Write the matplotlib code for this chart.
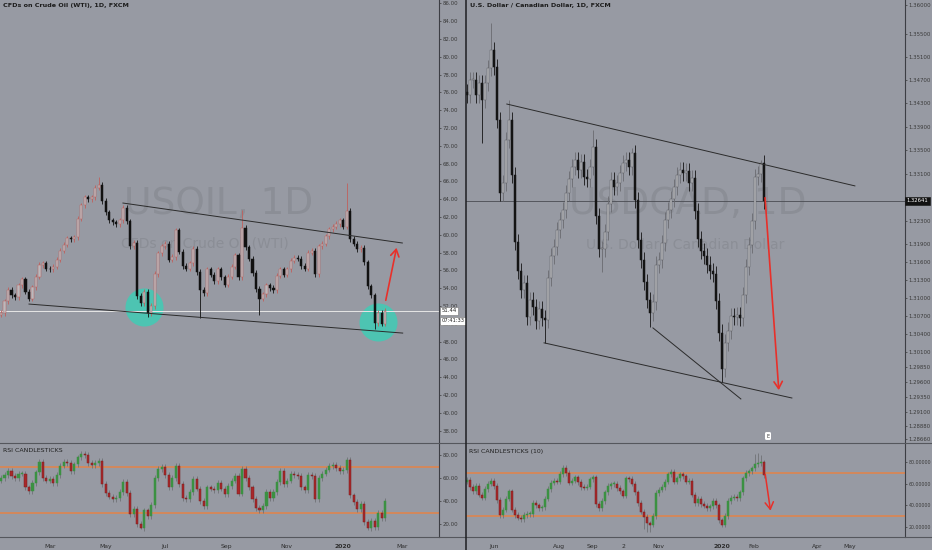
"""
Dos paneles estilo TradingView: USOIL 1D y USDCAD 1D con RSI en velas.
"""
import numpy as np
import matplotlib
matplotlib.use("Agg")
import matplotlib.pyplot as plt
from matplotlib.lines import Line2D
from matplotlib.ticker import FixedLocator, NullLocator, FuncFormatter
import matplotlib.transforms as mtransforms

BG = "#979aa3"
WM = "#8b8e96"
RED = "#e8302a"
ORANGE = "#dd8550"

# ---------------- USOIL (cierres cada ~2 sesiones) ----------------
oil_close = [51.2, 52.5, 53.8, 53.2, 53.0, 54.3, 55.0, 53.6, 52.8, 54.1,
             55.3, 56.6, 56.8, 56.2, 56.1, 56.4, 57.2, 58.2, 58.9, 59.6,
             59.5, 59.7, 61.8, 63.3, 64.2, 64.0, 64.2, 65.3, 65.6, 63.8,
             62.5, 61.6, 61.4, 61.2, 61.6, 63.0, 61.5, 58.7, 59.1, 53.1,
             52.3, 53.6, 51.2, 52.0, 55.6, 57.9, 58.7, 59.0, 57.2, 57.5,
             60.5, 58.1, 56.5, 56.2, 56.8, 58.4, 55.8, 53.8, 53.4, 56.1,
             55.5, 54.8, 56.1, 55.2, 54.4, 55.3, 56.4, 57.7, 55.2, 60.8,
             58.6, 57.3, 55.7, 53.9, 52.8, 53.3, 54.3, 54.0, 53.8, 55.4,
             56.1, 55.5, 56.1, 57.1, 57.4, 57.3, 56.5, 56.2, 58.0, 58.2,
             55.6, 58.7, 59.0, 59.8, 60.6, 60.9, 61.2, 61.6, 60.9, 62.7,
             59.5, 59.0, 58.4, 58.5, 56.9, 54.2, 53.2, 50.1, 51.2, 50.0,
             51.44]
oil_high_spikes = {28: 66.5, 69: 62.8, 99: 65.8}
oil_low_spikes = {42: 50.8, 57: 50.6, 74: 51.0, 107: 49.4}

oil_rsi = [60, 63, 66, 62, 60.5, 64, 64, 52, 48.5, 56,
           65, 74, 60, 58, 59.5, 56, 63, 71, 74, 73,
           66, 72, 78, 81, 80, 73, 71.7, 73, 75, 55,
           47, 44, 42, 43, 48, 57, 47, 29, 33, 20,
           17, 32, 27, 37, 60, 68, 70, 63, 52, 60,
           70.5, 55, 43, 42, 48, 59, 51, 40, 36, 52,
           51, 49.5, 56, 51, 46, 53, 58, 62, 46.7, 68,
           60, 52, 42, 34, 32, 36, 48, 43, 48, 57,
           66, 55, 58, 63.5, 62.5, 62, 52, 50, 62.5, 62,
           42, 60.5, 64, 67.5, 70.5, 71.5, 69, 66, 67, 76,
           45, 39, 33, 38, 22, 17, 23, 17.5, 30, 25,
           40]

oil_months = ["Mar", "May", "Jul", "Sep", "Nov", "2020", "Mar"]
oil_month_pos = [14.0, 30.0, 46.9, 64.6, 81.7, 98.0, 114.9]
oil_ticks = list(range(38, 88, 2))
oil_last = 51.44
oil_timer = "07:41:33"
oil_upper_x, oil_upper_y = [34.9, 114.9], [63.56, 59.07]
oil_lower_x, oil_lower_y = [8.0, 115.0], [52.21, 48.95]
oil_circle_x, oil_circle_y = [40.9, 108.0], [51.88, 50.19]
oil_arrow_x, oil_arrow_y = [110.0, 113.4], [52.33, 58.84]

# ---------------- USDCAD ----------------
cad_close = [1.34445, 1.34704, 1.34704, 1.34445, 1.34652, 1.34358, 1.34652, 1.34911, 1.35222, 1.34929,
             1.34016, 1.32772, 1.32942, 1.33675, 1.34016, 1.33078, 1.31944, 1.31455, 1.31136, 1.31253,
             1.30683, 1.30967, 1.30850, 1.30617, 1.30816, 1.30667, 1.30633, 1.31338, 1.31708, 1.31860,
             1.32146, 1.32314, 1.32483, 1.32772, 1.33010, 1.33215, 1.33334, 1.33164, 1.33300, 1.33044,
             1.33010, 1.33215, 1.33556, 1.32382, 1.31826, 1.31826, 1.32112, 1.32584, 1.32993, 1.32874,
             1.32942, 1.33113, 1.33283, 1.33334, 1.33215, 1.33454, 1.32652, 1.31978, 1.31641, 1.31270,
             1.30967, 1.30750, 1.30934, 1.31557, 1.31641, 1.31927, 1.32314, 1.32483, 1.32669, 1.32874,
             1.33078, 1.33164, 1.33113, 1.33147, 1.32942, 1.33027, 1.32466, 1.31995, 1.31792, 1.31708,
             1.31557, 1.31455, 1.31405, 1.30950, 1.30417, 1.29819, 1.30251, 1.30451, 1.30700, 1.30683,
             1.30716, 1.30667, 1.31051, 1.31523, 1.31893, 1.32298, 1.33044, 1.33096, 1.33283, 1.32641]
cad_high_spikes = {8: 1.35689, 14: 1.34358, 42: 1.33846, 55: 1.33539, 98: 1.33334}
cad_low_spikes = {5: 1.33624, 26: 1.30251, 45: 1.31439, 61: 1.30517, 85: 1.29602}

cad_rsi = [63.5, 57, 53, 58, 50, 47, 55, 60, 63, 58,
           45, 31, 36, 46, 53, 36, 31, 28.5, 27, 31,
           32, 32, 42, 40, 37, 38, 46, 55, 61, 63,
           62, 69, 75, 70, 61, 63, 66, 61.5, 57, 56.3,
           57.3, 64, 66, 41, 37, 44, 52, 58, 59.6, 60,
           56, 53, 49, 65, 64.5, 60, 52, 42, 34, 29,
           23, 22, 30, 51.5, 54.5, 57, 62, 68.8, 71.3, 62,
           65, 68.8, 67, 62, 63, 50, 42, 46, 41, 39.5,
           37, 39, 43.8, 40, 26, 22, 30, 44, 47, 47.8,
           46.5, 52, 65, 70, 71.5, 74.4, 78.5, 79, 80, 68]
cad_rsi_low_spikes = {59: 18.0, 60: 15.3, 61: 15.3}
cad_rsi_high_spikes = {96: 88.0, 97: 88.4, 98: 87.0}

cad_months = ["Jun", "Aug", "Sep", "2", "Nov", "2020", "Feb", "Apr", "May"]
cad_month_pos = [9.0, 30.7, 41.7, 52.3, 63.7, 85.0, 95.7, 116.7, 127.7]
cad_ticks = [1.36000, 1.35500, 1.35100, 1.34700, 1.34300, 1.33900, 1.33500, 1.33100,
             1.32300, 1.31900, 1.31600, 1.31300, 1.31000, 1.30700, 1.30400, 1.30100,
             1.29850, 1.29600, 1.29350, 1.29100, 1.28880, 1.28660]
cad_last = 1.32641
cad_upper_x, cad_upper_y = [13.3, 129.3], [1.34289, 1.32891]
cad_lower1_x, cad_lower1_y = [25.7, 108.3], [1.30251, 1.29336]
cad_lower2_x, cad_lower2_y = [62.0, 91.3], [1.30500, 1.29320]
cad_arrow_x, cad_arrow_y = [99.3, 104.0], [1.32737, 1.29420]
cad_rsi_arrow_x, cad_rsi_arrow_y = [99.3, 101.3], [71.3, 32.4]


def draw_candles(ax, closes, first_open, wick, up_body, up_edge, dn_body, dn_edge,
                 wick_up=None, wick_dn=None, hi_spikes=None, lo_spikes=None,
                 width=0.62, min_body=0.0):
    c = np.asarray(closes, float)
    o = np.r_[first_open, c[:-1]]
    hi = np.maximum(o, c) + wick
    lo = np.minimum(o, c) - wick
    for k, v in (hi_spikes or {}).items():
        hi[k] = v
    for k, v in (lo_spikes or {}).items():
        lo[k] = v
    x = np.arange(len(c))
    up = c >= o
    ax.vlines(x[up], lo[up], hi[up], color=wick_up or up_edge, lw=0.6, zorder=3)
    ax.vlines(x[~up], lo[~up], hi[~up], color=wick_dn or dn_edge, lw=0.6, zorder=3)
    bottom = np.minimum(o, c)
    h = np.maximum(np.abs(c - o), min_body)
    ax.bar(x[up], h[up], width, bottom=bottom[up], color=up_body,
           edgecolor=up_edge, lw=0.35, zorder=4)
    ax.bar(x[~up], h[~up], width, bottom=bottom[~up], color=dn_body,
           edgecolor=dn_edge, lw=0.35, zorder=4)


def style_axis(ax, fmt, ticks, size=3.9):
    ax.set_facecolor(BG)
    for s in ("top", "left", "bottom"):
        ax.spines[s].set_visible(False)
    ax.spines["right"].set_color("#3c3e44")
    ax.spines["right"].set_linewidth(0.8)
    ax.yaxis.tick_right()
    ax.yaxis.set_major_locator(FixedLocator(ticks))
    ax.yaxis.set_minor_locator(NullLocator())
    ax.yaxis.set_major_formatter(FuncFormatter(lambda v, p: fmt % v))
    ax.tick_params(axis="y", labelsize=size, colors="#3a3a3a", length=1.5,
                   width=0.5, pad=1.0)
    ax.tick_params(axis="x", bottom=False, labelbottom=False)


W, H = 932, 550
fig = plt.figure(figsize=(W / 100, H / 100), dpi=100, facecolor=BG)
main_b, main_h = (H - 443) / H, 443 / H
rsi_b, rsi_h = (H - 537) / H, 94 / H
pw = 439 / W

ax1 = fig.add_axes([0, main_b, pw, main_h])
ax1r = fig.add_axes([0, rsi_b, pw, rsi_h], sharex=ax1)
ax2 = fig.add_axes([466 / W, main_b, pw, main_h])
ax2r = fig.add_axes([466 / W, rsi_b, pw, rsi_h], sharex=ax2)

# ---------------- panel USOIL ----------------
style_axis(ax1, "%.2f", oil_ticks)
ax1.set_xlim(-0.3, 125.4)
ax1.set_ylim(36.6, 86.37)
ax1.text(0.499, 0.54, "USOIL, 1D", transform=ax1.transAxes, ha="center",
         va="center", fontsize=27, color=WM, zorder=1)
ax1.text(0.467, 0.451, "CFDs on Crude Oil (WTI)", transform=ax1.transAxes,
         ha="center", va="center", fontsize=10, color=WM, zorder=1)
ax1.scatter(oil_circle_x, oil_circle_y, s=750, color="#45c9b4", alpha=0.9,
            lw=0, zorder=2)
ax1.axhline(oil_last, color="#e6e6e6", lw=0.7, zorder=2)
draw_candles(ax1, oil_close, 51.0, 0.3, "#b9b9bd", "#c0605c", "#111111",
             "#111111", hi_spikes=oil_high_spikes, lo_spikes=oil_low_spikes,
             width=0.6, min_body=0.08)
ax1.plot(oil_upper_x, oil_upper_y, color="#2b2b2b", lw=0.7, zorder=5)
ax1.plot(oil_lower_x, oil_lower_y, color="#2b2b2b", lw=0.7, zorder=5)
ax1.annotate("", xy=(oil_arrow_x[1], oil_arrow_y[1]),
             xytext=(oil_arrow_x[0], oil_arrow_y[0]),
             arrowprops=dict(arrowstyle="->,head_length=0.5,head_width=0.3",
                             color=RED, lw=1.2), zorder=6)
trans1 = mtransforms.blended_transform_factory(ax1.transAxes, ax1.transData)
ax1.text(1.005, oil_last, "%.2f" % oil_last, transform=trans1, ha="left",
         va="center", fontsize=3.9, color="#222222", zorder=10, clip_on=False,
         bbox=dict(boxstyle="square,pad=0.3", fc="white", ec="#777777", lw=0.4))
ax1.annotate(oil_timer, xy=(1.005, oil_last), xycoords=trans1, xytext=(0, -7.2),
             textcoords="offset points", ha="left", va="center", fontsize=3.7,
             color="#222222", zorder=10, annotation_clip=False,
             bbox=dict(boxstyle="square,pad=0.3", fc="white", ec="#777777", lw=0.4))

style_axis(ax1r, "%.2f", [20, 40, 60, 80])
ax1r.set_ylim(8.9, 90.6)
ax1r.axhline(70, color=ORANGE, lw=1.2, zorder=2)
ax1r.axhline(30, color=ORANGE, lw=1.2, zorder=2)
draw_candles(ax1r, oil_rsi, 58.0, 2.5, "#3b9142", "#3b9142", "#a8282a",
             "#7a1e1e", wick_up="#707276", wick_dn="#707276",
             lo_spikes={40: 15.5, 105: 15.0, 107: 15.0}, width=0.6, min_body=0.8)
ax1r.set_xticks(oil_month_pos)
ax1r.set_xticklabels(oil_months)
ax1r.tick_params(axis="x", bottom=False, labelbottom=True, labelsize=4.4,
                 colors="#2e2e2e", pad=1.8)
for lab in ax1r.get_xticklabels():
    if lab.get_text() == "2020":
        lab.set_fontweight("bold")
ax1r.text(3 / 439, 1 - 8 / 94, "RSI CANDLESTICKS", transform=ax1r.transAxes,
          fontsize=4.5, color="#202020", va="center", ha="left")

# ---------------- panel USDCAD ----------------
ax2.set_yscale("log")
style_axis(ax2, "%.5f", cad_ticks)
ax2.set_xlim(-0.3, 146.0)
ax2.set_ylim(1.28594, 1.36087)
ax2.text(0.506, 0.54, "USDCAD, 1D", transform=ax2.transAxes, ha="center",
         va="center", fontsize=27, color=WM, zorder=1)
ax2.text(0.499, 0.447, "U.S. Dollar / Canadian Dollar", transform=ax2.transAxes,
         ha="center", va="center", fontsize=10, color=WM, zorder=1)
ax2.axhline(cad_last, color="#4a4c52", lw=0.6, zorder=2)
draw_candles(ax2, cad_close, 1.3450, 0.0014, "#b6b7bb", "#5c5d62", "#141414",
             "#141414", wick_up="#6a6b70", hi_spikes=cad_high_spikes,
             lo_spikes=cad_low_spikes, width=0.6, min_body=0.0002)
ax2.plot(cad_upper_x, cad_upper_y, color="#2b2b2b", lw=0.7, zorder=5)
ax2.plot(cad_lower1_x, cad_lower1_y, color="#2b2b2b", lw=0.7, zorder=5)
ax2.plot(cad_lower2_x, cad_lower2_y, color="#2b2b2b", lw=0.7, zorder=5)
ax2.annotate("", xy=(cad_arrow_x[1], cad_arrow_y[1]),
             xytext=(cad_arrow_x[0], cad_arrow_y[0]),
             arrowprops=dict(arrowstyle="->,head_length=0.5,head_width=0.3",
                             color=RED, lw=1.2), zorder=6)
trans2 = mtransforms.blended_transform_factory(ax2.transAxes, ax2.transData)
ax2.text(1.003, cad_last, "%.5f" % cad_last, transform=trans2, ha="left",
         va="center", fontsize=3.8, color="white", zorder=10, clip_on=False,
         bbox=dict(boxstyle="square,pad=0.3", fc="#111111", ec="#111111", lw=0.4))

style_axis(ax2r, "%.5f", [20, 40, 60, 80], size=3.4)
ax2r.set_ylim(10.4, 98.0)
ax2r.axhline(70, color=ORANGE, lw=1.2, zorder=2)
ax2r.axhline(30, color=ORANGE, lw=1.2, zorder=2)
draw_candles(ax2r, cad_rsi, 62.0, 2.5, "#3b9142", "#3b9142", "#a8282a",
             "#7a1e1e", wick_up="#707276", wick_dn="#707276",
             hi_spikes=cad_rsi_high_spikes, lo_spikes=cad_rsi_low_spikes,
             width=0.6, min_body=0.8)
ax2r.annotate("", xy=(cad_rsi_arrow_x[1], cad_rsi_arrow_y[1]),
              xytext=(cad_rsi_arrow_x[0], cad_rsi_arrow_y[0]),
              arrowprops=dict(arrowstyle="->,head_length=0.5,head_width=0.3",
                              color=RED, lw=1.1), zorder=6)
ax2r.set_xticks(cad_month_pos)
ax2r.set_xticklabels(cad_months)
ax2r.tick_params(axis="x", bottom=False, labelbottom=True, labelsize=4.4,
                 colors="#2e2e2e", pad=1.8)
for lab in ax2r.get_xticklabels():
    if lab.get_text() == "2020":
        lab.set_fontweight("bold")
ax2r.text(3 / 439, 1 - 8 / 94, "RSI CANDLESTICKS (10)", transform=ax2r.transAxes,
          fontsize=4.5, color="#202020", va="center", ha="left")

# ---------------- titulos y separadores ----------------
fig.text(3 / W, 1 - 6 / H, "CFDs on Crude Oil (WTI), 1D, FXCM", fontsize=4.6,
         fontweight="bold", color="#1c1c1c", va="center", ha="left")
fig.text(470 / W, 1 - 6 / H, "U.S. Dollar / Canadian Dollar, 1D, FXCM",
         fontsize=4.6, fontweight="bold", color="#1c1c1c", va="center", ha="left")
fig.text(768 / W, 1 - 436 / H, "E", fontsize=3.5, color="#333333", ha="center",
         va="center", bbox=dict(boxstyle="round,pad=0.3", fc="white", ec="none"))

for yy in (443, 537):
    fig.add_artist(Line2D([0, 1], [1 - yy / H, 1 - yy / H], transform=fig.transFigure,
                          color="#55575d", lw=0.8))
fig.add_artist(Line2D([466 / W, 466 / W], [0, 1], transform=fig.transFigure,
                      color="#1e1f22", lw=1.1))

fig.savefig("out.png", dpi=100, facecolor=BG)
